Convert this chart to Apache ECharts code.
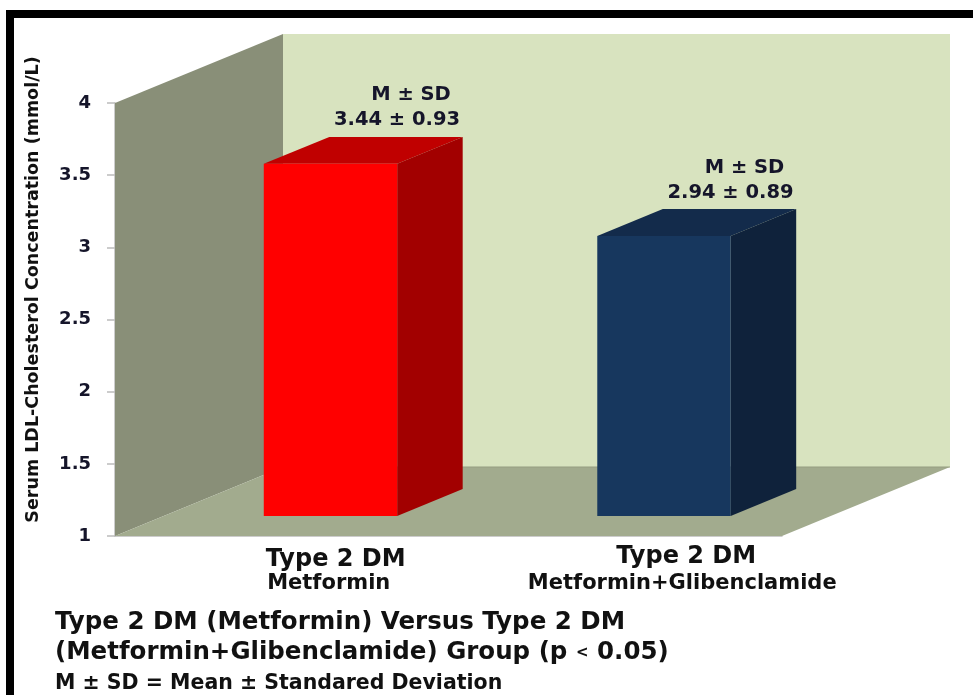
<!DOCTYPE html>
<html>
<head>
<meta charset="utf-8">
<script src="https://cdn.jsdelivr.net/npm/echarts@6/dist/echarts.min.js"></script>
<style>
  html, body { margin: 0; padding: 0; background: #ffffff; }
  #chart { width: 973px; height: 695px; }
</style>
</head>
<body>
<div id="chart"></div>
<script>
// Serum LDL-cholesterol in two type 2 diabetes treatment groups
const groups = ['Type 2 DM', 'Type 2 DM'];
const treatments = ['Metformin', 'Metformin+Glibenclamide'];
const means = [3.44, 2.94];
const sds = [0.93, 0.89];
const yMin = 1;
const yMax = 4;
const yStep = 0.5;

// Fake-3D look: offset of the back plane relative to the front plane (px)
const DEPTH = [168, -69];
const BAR_FRONT = 0.29;   // bar front face, as a fraction of the depth
const BAR_BACK = 0.68;    // bar back face
const BAR_RATIO = 0.40;   // bar width relative to the category band

const FONT = 'DejaVu Sans';
const INK = '#15152a';

const barColors = [
  { front: '#ff0000', top: '#c00000', side: '#a20000' },
  { front: '#17375e', top: '#132b4b', side: '#0f223b' }
];

const chart = echarts.init(document.getElementById('chart'), null, { renderer: 'canvas' });

function shift(p, t) {
  return [p[0] + DEPTH[0] * t, p[1] + DEPTH[1] * t];
}

// Side wall, back wall and floor of the box
function renderWalls(params, api) {
  const cs = params.coordSys;
  const x0 = cs.x, y0 = cs.y, x1 = cs.x + cs.width, y1 = cs.y + cs.height;
  const dx = DEPTH[0], dy = DEPTH[1];
  return {
    type: 'group',
    children: [
      { type: 'rect', shape: { x: x0 + dx, y: y0 + dy, width: cs.width, height: cs.height },
        style: { fill: '#d8e3bf' } },
      { type: 'polygon', shape: { points: [[x0, y0], [x0 + dx, y0 + dy], [x0 + dx, y1 + dy], [x0, y1]] },
        style: { fill: '#898f78' } },
      { type: 'polygon', shape: { points: [[x0, y1], [x1, y1], [x1 + dx, y1 + dy], [x0 + dx, y1 + dy]] },
        style: { fill: '#a2ab8e' } },
      { type: 'line', shape: { x1: x0 + dx, y1: y1 + dy, x2: x1 + dx, y2: y1 + dy },
        style: { stroke: '#959d80', lineWidth: 1 } }
    ]
  };
}

// One box per group plus its mean ± SD label
function renderBar(params, api) {
  const i = params.dataIndex;
  const c = barColors[i];
  const bw = api.size([1, 0])[0] * BAR_RATIO;
  const base = api.coord([api.value(0), yMin]);
  const top = api.coord([api.value(0), api.value(1)]);
  const fl = shift([base[0] - bw / 2, top[1]], BAR_FRONT);
  const fr = shift([base[0] + bw / 2, top[1]], BAR_FRONT);
  const frb = shift([base[0] + bw / 2, base[1]], BAR_FRONT);
  const flb = shift([base[0] - bw / 2, base[1]], BAR_FRONT);
  const d = BAR_BACK - BAR_FRONT;
  const bl = shift(fl, d), br = shift(fr, d), brb = shift(frb, d);
  const labelAnchor = [(bl[0] + br[0]) / 2 + 1, bl[1] - 4];
  return {
    type: 'group',
    children: [
      { type: 'polygon', shape: { points: [fl, fr, br, bl] }, style: { fill: c.top } },
      { type: 'polygon', shape: { points: [fr, frb, brb, br] }, style: { fill: c.side } },
      { type: 'polygon', shape: { points: [fl, fr, frb, flb] }, style: { fill: c.front } },
      {
        type: 'text',
        x: labelAnchor[0], y: labelAnchor[1],
        style: {
          text: '{h|M \u00b1 SD}\n{v|' + means[i].toFixed(2) + ' \u00b1 ' + sds[i].toFixed(2) + '}',
          align: 'center', verticalAlign: 'bottom',
          rich: {
            h: { fontFamily: FONT, fontWeight: 'bold', fontSize: 19.5, lineHeight: 25, fill: INK, padding: [0, 0, 0, 28] },
            v: { fontFamily: FONT, fontWeight: 'bold', fontSize: 19.5, lineHeight: 25, fill: INK }
          }
        }
      }
    ]
  };
}

const catLabelRich = {
  a0: { fontFamily: FONT, fontWeight: 'bold', fontSize: 24, lineHeight: 27, color: '#111', padding: [6, 0, 0, 108] },
  b0: { fontFamily: FONT, fontWeight: 'bold', fontSize: 21, lineHeight: 27, color: '#111', padding: [0, 0, 0, 94] },
  a1: { fontFamily: FONT, fontWeight: 'bold', fontSize: 24, lineHeight: 27, color: '#111', padding: [0, 0, 0, 142] },
  b1: { fontFamily: FONT, fontWeight: 'bold', fontSize: 21, lineHeight: 27, color: '#111', padding: [0, 0, 0, 134] }
};

chart.setOption({
  backgroundColor: '#ffffff',
  animation: false,
  title: [
    {
      text: 'Type 2 DM (Metformin) Versus Type 2 DM\n(Metformin+Glibenclamide) Group (p {lt|<} 0.05)',
      left: 55, top: 608, padding: 0,
      textStyle: {
        fontFamily: FONT, fontWeight: 'bold', fontSize: 24.5, lineHeight: 30, color: '#111',
        rich: { lt: { fontFamily: FONT, fontWeight: 'bold', fontSize: 15, lineHeight: 30, color: '#111' } }
      }
    },
    {
      text: 'M \u00b1 SD = Mean \u00b1 Standared Deviation',
      left: 55, top: 673, padding: 0,
      textStyle: { fontFamily: FONT, fontWeight: 'bold', fontSize: 20.5, lineHeight: 22, color: '#111' }
    }
  ],
  grid: { left: 115, right: 191, top: 103, bottom: 159, containLabel: false },
  xAxis: {
    type: 'category',
    data: groups.map((g, i) => i),
    boundaryGap: true,
    axisLine: { show: true, lineStyle: { color: '#bcbcbc', width: 1.5 } },
    axisTick: { show: false },
    splitLine: { show: false },
    axisLabel: {
      margin: 7,
      interval: 0,
      formatter: (v, i) => '{a' + i + '|' + groups[i] + '}\n{b' + i + '|' + treatments[i] + '}',
      rich: catLabelRich
    }
  },
  yAxis: {
    type: 'value',
    min: yMin, max: yMax, interval: yStep,
    name: 'Serum LDL-Cholesterol Concentration (mmol/L)',
    nameLocation: 'middle',
    nameRotate: 90,
    nameGap: 73,
    nameTextStyle: { fontFamily: FONT, fontWeight: 'bold', fontSize: 17.5, color: '#111', padding: [0, 0, 0, 60] },
    axisLine: { show: true, lineStyle: { color: '#bcbcbc', width: 1.5 } },
    axisTick: { show: true, length: 8, lineStyle: { color: '#bcbcbc', width: 1.5 } },
    splitLine: { show: false },
    axisLabel: { margin: 24, fontFamily: FONT, fontWeight: 'bold', fontSize: 18, color: INK }
  },
  series: [
    {
      type: 'custom',
      name: 'walls',
      z: 1,
      silent: true,
      renderItem: renderWalls,
      data: [[0, yMin]]
    },
    {
      type: 'custom',
      name: 'LDL-C',
      z: 3,
      renderItem: renderBar,
      encode: { x: 0, y: 1 },
      data: means.map((m, i) => [i, m])
    }
  ],
  graphic: [
    { type: 'rect', shape: { x: 6, y: 10, width: 967, height: 8 }, style: { fill: '#000' }, z: 100 },
    { type: 'rect', shape: { x: 6, y: 10, width: 8, height: 685 }, style: { fill: '#000' }, z: 100 }
  ]
});
</script>
</body>
</html>
